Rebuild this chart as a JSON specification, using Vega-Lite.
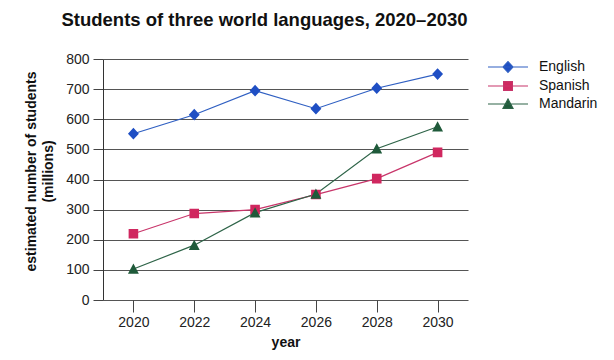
{
  "$schema": "https://vega.github.io/schema/vega-lite/v6.json",
  "width": 365,
  "height": 241,
  "autosize": "none",
  "padding": {"left": 103, "top": 59, "right": 146, "bottom": 60},
  "background": "white",
  "title": {
    "text": "Students of three world languages, 2020–2030",
    "font": "Liberation Sans",
    "fontSize": 18.5,
    "fontWeight": "bold",
    "color": "#111",
    "anchor": "middle",
    "dx": -21,
    "offset": 23
  },
  "config": {
    "view": {"stroke": null},
    "font": "Liberation Sans"
  },
  "data": {
    "values": [
      {"year": "2020", "language": "English", "students": 552},
      {"year": "2022", "language": "English", "students": 615},
      {"year": "2024", "language": "English", "students": 695},
      {"year": "2026", "language": "English", "students": 635},
      {"year": "2028", "language": "English", "students": 703},
      {"year": "2030", "language": "English", "students": 750},
      {"year": "2020", "language": "Spanish", "students": 220},
      {"year": "2022", "language": "Spanish", "students": 287},
      {"year": "2024", "language": "Spanish", "students": 300},
      {"year": "2026", "language": "Spanish", "students": 350},
      {"year": "2028", "language": "Spanish", "students": 403},
      {"year": "2030", "language": "Spanish", "students": 490},
      {"year": "2020", "language": "Mandarin", "students": 103},
      {"year": "2022", "language": "Mandarin", "students": 182},
      {"year": "2024", "language": "Mandarin", "students": 290},
      {"year": "2026", "language": "Mandarin", "students": 352},
      {"year": "2028", "language": "Mandarin", "students": 502},
      {"year": "2030", "language": "Mandarin", "students": 575}
    ]
  },
  "encoding": {
    "x": {
      "field": "year",
      "type": "ordinal",
      "scale": {"type": "point", "padding": 0.5},
      "axis": {
        "title": "year",
        "titleFontSize": 14,
        "titleFontWeight": "bold",
        "titleColor": "#111",
        "titlePadding": 6,
        "labelAngle": 0,
        "labelFontSize": 14,
        "labelColor": "#222",
        "labelPadding": 3,
        "domain": false,
        "tickSize": 12,
        "tickColor": "#444",
        "grid": false
      }
    },
    "y": {
      "field": "students",
      "type": "quantitative",
      "scale": {"domain": [0, 800], "nice": false},
      "axis": {
        "title": ["estimated number of students", "(millions)"],
        "titleFontSize": 14,
        "titleFontWeight": "bold",
        "titleColor": "#111",
        "titlePadding": 10,
        "titleLineHeight": 17,
        "titleY": 112,
        "values": [0, 100, 200, 300, 400, 500, 600, 700, 800],
        "labelFontSize": 14,
        "labelColor": "#222",
        "labelPadding": 4,
        "tickSize": 10,
        "tickColor": "#444",
        "domainColor": "#333",
        "gridColor": "#555",
        "gridWidth": 1,
        "gridOpacity": 1
      }
    }
  },
  "layer": [
    {
      "mark": {"type": "line", "strokeWidth": 1.2},
      "encoding": {
        "stroke": {
          "field": "language",
          "type": "nominal",
          "scale": {
            "domain": ["English", "Spanish", "Mandarin"],
            "range": ["#2f5fc2", "#c8356a", "#2e6448"]
          },
          "legend": {
            "title": null,
            "orient": "none",
            "legendX": 394,
            "legendY": -3,
            "symbolSize": 400,
            "symbolStrokeWidth": 1.2,
            "labelFontSize": 14,
            "labelColor": "#111",
            "labelOffset": 20,
            "rowPadding": 0
          }
        }
      }
    },
    {
      "mark": {"type": "point", "filled": true, "opacity": 1, "size": 475},
      "encoding": {
        "color": {
          "field": "language",
          "type": "nominal",
          "scale": {
            "domain": ["English", "Spanish", "Mandarin"],
            "range": ["#1f4fc4", "#d0275f", "#1f5a3a"]
          },
          "legend": {
            "title": null,
            "orient": "none",
            "legendX": 394,
            "legendY": -3,
            "symbolSize": 400,
            "symbolStrokeWidth": 1.2,
            "symbolOpacity": 1,
            "labelFontSize": 14,
            "labelColor": "#111",
            "labelOffset": 20,
            "rowPadding": 0
          }
        },
        "shape": {
          "field": "language",
          "type": "nominal",
          "scale": {
            "domain": ["English", "Spanish", "Mandarin"],
            "range": [
              "M-2,0H2M0,-0.54L0.5,0L0,0.54L-0.5,0Z",
              "M-2,0H2M-0.44,-0.44H0.44V0.44H-0.44Z",
              "M-2,0H2M0,-0.5L0.5,0.44H-0.5Z"
            ]
          },
          "legend": {
            "title": null,
            "orient": "none",
            "legendX": 394,
            "legendY": -3,
            "symbolSize": 400,
            "symbolStrokeWidth": 1.2,
            "symbolOpacity": 1,
            "labelFontSize": 14,
            "labelColor": "#111",
            "labelOffset": 20,
            "rowPadding": 0
          }
        }
      }
    }
  ]
}
